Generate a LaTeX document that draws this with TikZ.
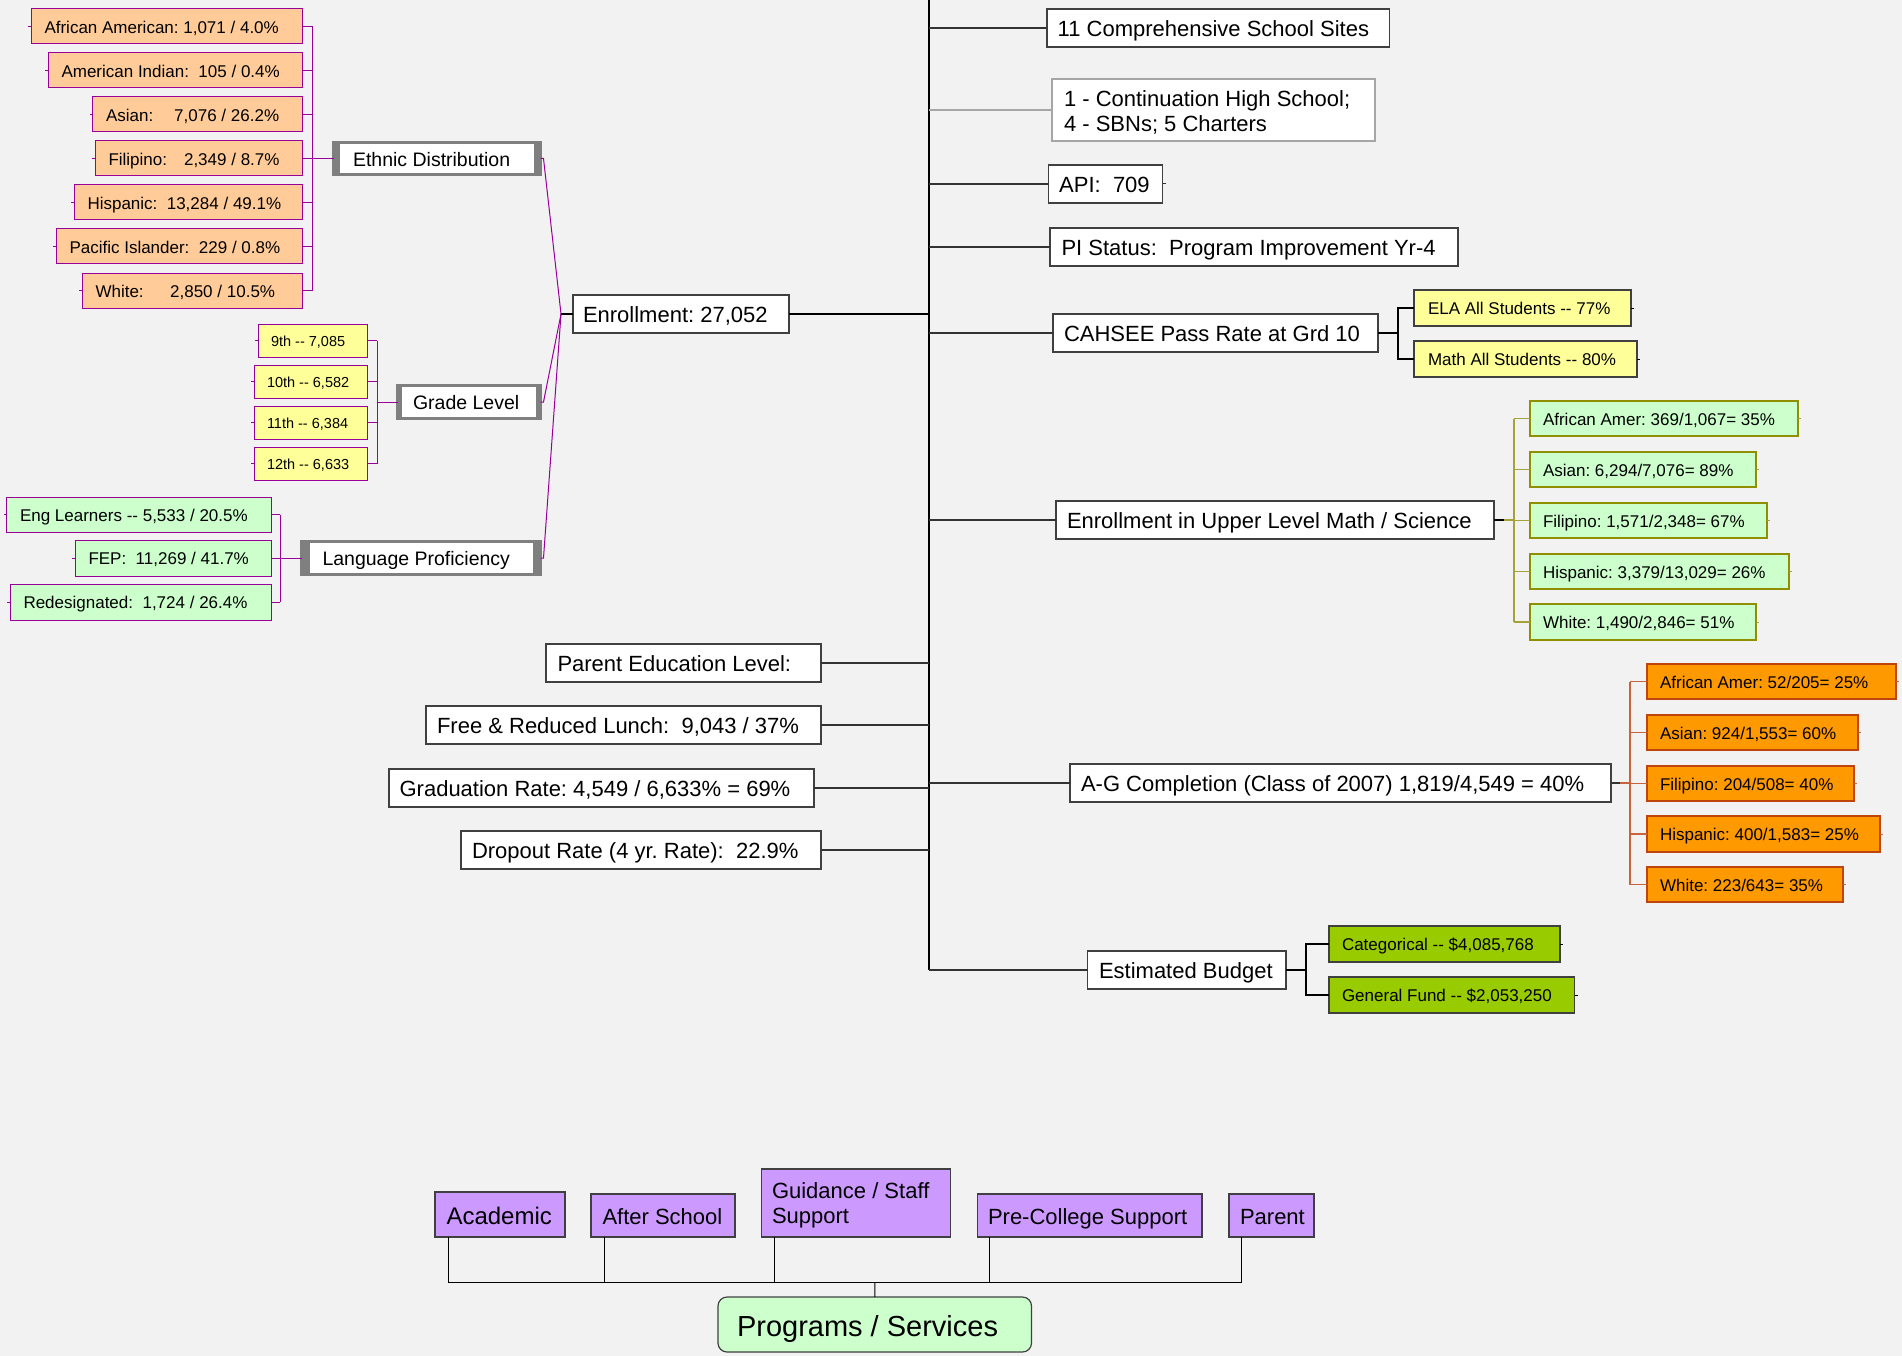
\documentclass[tikz,border=0pt]{standalone}
\usepackage{fontspec}
\setmainfont{Liberation Sans}
\definecolor{bgc}{HTML}{F2F2F2}
\definecolor{colPurp}{HTML}{990099}
\definecolor{colPeach}{HTML}{FFCC99}
\definecolor{colYel}{HTML}{FFFF99}
\definecolor{colLGreen}{HTML}{CCFFCC}
\definecolor{colOlive}{HTML}{8F8F00}
\definecolor{colOliveL}{HTML}{A3A33A}
\definecolor{colOrange}{HTML}{FF9900}
\definecolor{colRust}{HTML}{C0440E}
\definecolor{colRustL}{HTML}{C8643A}
\definecolor{colLime}{HTML}{99CC00}
\definecolor{colLilac}{HTML}{CC99FF}
\definecolor{colCat}{HTML}{7F7F7F}
\definecolor{colEdge}{HTML}{404040}
\definecolor{colLGray}{HTML}{A6A6A6}
\definecolor{colConn}{HTML}{333333}
% #1 pad, #2 style, #3 name, #4 x1, #5 y1, #6 x2, #7 y2, #8 text
\newcommand{\bx}[8][11]{%
  \pgfmathsetmacro{\bxw}{#6-#4}%
  \pgfmathsetmacro{\bxh}{#7-#5}%
  \pgfmathsetmacro{\bxt}{#6-#4-2*#1}%
  \node[#2, anchor=north west, inner xsep=#1pt, inner ysep=0pt, outer sep=0pt,
        minimum width=\bxw pt, minimum height=\bxh pt] (#3) at (#4,#5)
        {\makebox[\bxt pt][l]{\rule[-0.3em]{0pt}{1.4em}#8}};}
\newcommand{\dd}{-\kern0pt-}
\newcommand{\twolines}[4]{\raisebox{#1}[0pt][0pt]{\parbox[t]{#2}{\raggedright #3\\#4}}}
\begin{document}
\frenchspacing
\begin{tikzpicture}[x=1pt,y=-1pt,
  wbox/.style={draw=colEdge, fill=white, line width=1.2pt, font=\fontsize{22}{25}\selectfont},
  catbox/.style={draw=colCat, fill=white, line width=3pt, font=\fontsize{19.5}{23}\selectfont},
  ethbox/.style={draw=colPurp, fill=colPeach, line width=1pt, font=\fontsize{17}{20}\selectfont},
  gradebox/.style={draw=colPurp, fill=colYel, line width=1pt, font=\fontsize{14.5}{17}\selectfont},
  langbox/.style={draw=colPurp, fill=colLGreen, line width=1pt, font=\fontsize{17}{20}\selectfont},
  upbox/.style={draw=colOlive, fill=colLGreen, line width=1.2pt, font=\fontsize{17}{20}\selectfont},
  cahbox/.style={draw=colEdge, fill=colYel, line width=1.2pt, font=\fontsize{17}{20}\selectfont},
  agbox/.style={draw=colRust, fill=colOrange, line width=1.2pt, font=\fontsize{17}{20}\selectfont},
  budbox/.style={draw=colEdge, fill=colLime, line width=1.2pt, font=\fontsize{17}{20}\selectfont},
  pbox/.style={draw=colEdge, fill=colLilac, line width=1.2pt, font=\fontsize{22}{25}\selectfont},
  progbox/.style={draw=colEdge, fill=colLGreen, line width=1.2pt, rounded corners=9pt, font=\fontsize{29}{33}\selectfont},
  trunkline/.style={draw=black, line width=2pt},
  conn/.style={draw=colConn, line width=1.6pt},
  pline/.style={draw=colPurp, line width=1pt},
  oline/.style={draw=colOliveL, line width=1.2pt},
  rline/.style={draw=colRustL, line width=1.2pt},
  bline/.style={draw=black, line width=1.2pt},
  stub/.style={line width=1pt}
]
\useasboundingbox (0,0) rectangle (1902,1356);
\fill[bgc] (0,0) rectangle (1902,1356);

% ---------- trunk ----------
\coordinate (trunk) at (929,0);
\coordinate (trunkend) at (929,970);
\draw[trunkline] (trunk) -- (trunkend);

% ---------- left: ethnic ----------
\bx[13.5]{ethbox}{e1}{31}{9}{302}{44}{African American: 1,071 / 4.0\%}
\bx[13.5]{ethbox}{e2}{48}{53}{302}{88}{American Indian:~~105 / 0.4\%}
\bx[13.5]{ethbox}{e3}{92.5}{97}{302}{132}{Asian:\hspace{21pt}7,076 / 26.2\%}
\bx[13.5]{ethbox}{e4}{95}{141}{302}{176}{Filipino:\hspace{17pt}2,349 / 8.7\%}
\bx[13.5]{ethbox}{e5}{74}{185}{302}{220}{Hispanic:~~13,284 / 49.1\%}
\bx[13.5]{ethbox}{e6}{56}{229}{302}{264}{Pacific Islander:~~229 / 0.8\%}
\bx[13.5]{ethbox}{e7}{82}{273}{302}{308}{White:\hspace{26.5pt}2,850 / 10.5\%}

\bx[19.5]{catbox}{eth}{333.5}{142.5}{540.5}{174.5}{Ethnic Distribution}
\fill[colCat] (eth.north west) rectangle ([xshift=6.5pt]eth.south west);
\fill[colCat] ([xshift=-7pt]eth.north east) rectangle (eth.south east);

\coordinate (ebx) at (312,0);
\foreach \n in {e1,e2,e3,e4,e5,e6,e7}{
  \draw[pline] (\n.east) -- (\n.east -| ebx);
  \draw[pline] (\n.west) -- ++(-3,0);
}
\draw[pline] (e1.east -| ebx) -- (e7.east -| ebx);
\draw[pline, line width=1.5pt] (e4.east -| ebx) -- (eth.west);

% ---------- left: grade ----------
\bx[13]{gradebox}{g1}{258}{324}{367}{357}{9th \dd{} 7,085}
\bx[13]{gradebox}{g2}{254}{365}{367}{398}{10th \dd{} 6,582}
\bx[13]{gradebox}{g3}{254}{406}{367}{439}{11th \dd{} 6,384}
\bx[13]{gradebox}{g4}{254}{447}{367}{480}{12th \dd{} 6,633}

\bx[15.5]{catbox}{grd}{397.5}{385.5}{540.5}{418.5}{Grade Level}
\fill[colCat] (grd.north west) rectangle ([xshift=4.3pt]grd.south west);
\fill[colCat] ([xshift=-4.6pt]grd.north east) rectangle (grd.south east);

\coordinate (gbx) at (377,0);
\foreach \n in {g1,g2,g3,g4}{
  \draw[pline] (\n.east) -- (\n.east -| gbx);
  \draw[pline] (\n.west) -- ++(-3,0);
}
\draw[pline] (g1.east -| gbx) -- (g4.east -| gbx);
\draw[pline] (grd.west -| gbx) -- (grd.west);

% ---------- left: language ----------
\bx[13.5]{langbox}{l1}{6.5}{497}{271}{532}{Eng Learners \dd{} 5,533 / 20.5\%}
\bx[13.5]{langbox}{l2}{75}{540}{271}{576}{FEP:~~11,269 / 41.7\%}
\bx[13.5]{langbox}{l3}{10}{584}{271}{620}{Redesignated:~~1,724 / 26.4\%}

\bx[21]{catbox}{lng}{301.5}{541.5}{540.5}{574.5}{Language Proficiency}
\fill[colCat] (lng.north west) rectangle ([xshift=8pt]lng.south west);
\fill[colCat] ([xshift=-8pt]lng.north east) rectangle (lng.south east);

\coordinate (lbx) at (280,0);
\foreach \n in {l1,l2,l3}{
  \draw[pline] (\n.east) -- (\n.east -| lbx);
  \draw[pline] (\n.west) -- ++(-3,0);
}
\draw[pline] (l1.east -| lbx) -- (l3.east -| lbx);
\draw[pline] (l2.east -| lbx) -- (lng.west);

% ---------- enrollment ----------
\bx[10]{wbox}{enr}{573}{295}{789}{333}{Enrollment: 27,052}
\coordinate (enrj) at (561,314);
\draw[pline] (eth.east) -- ++(3,0) -- (enrj);
\draw[pline] (grd.east) -- ++(3,0) -- (enrj);
\draw[pline] (lng.east) -- ++(3,0) -- (enrj);
\draw[bline] (enrj) -- (enr.west);
\draw[bline] (enr.east) -- (enr.east -| trunk);

% ---------- left lower boxes ----------
\bx[11.5]{wbox}{par}{546}{644}{821}{682}{Parent Education Level:}
\bx[11]{wbox}{free}{426}{706}{821}{744}{Free \& Reduced Lunch:~~9,043 / 37\%}
\bx[10.6]{wbox}{grad}{389}{769}{814}{807}{Graduation Rate: 4,549 / 6,633\% = 69\%}
\bx[11]{wbox}{drop}{461}{831}{821}{869}{Dropout Rate (4 yr. Rate):~~22.9\%}
\foreach \n in {par,free,grad,drop}{
  \draw[conn] (\n.east) -- (\n.east -| trunk);
}

% ---------- right boxes ----------
\bx[10.7]{wbox}{c11}{1047}{9}{1389.5}{47}{11 Comprehensive School Sites}
\bx[12]{wbox, draw=colLGray}{cont}{1052}{79}{1375}{141}{\twolines{12pt}{299pt}{1 - Continuation High School;}{4 - SBNs; 5 Charters}}
\bx[10.7]{wbox}{api}{1048.5}{165}{1162.5}{203}{API:~~709}
\bx[11.5]{wbox}{pis}{1050}{228}{1458}{266}{PI Status:~~Program Improvement Yr-4}
\bx[11]{wbox}{cah}{1053}{314}{1378}{352}{CAHSEE Pass Rate at Grd 10}
\bx[11]{wbox}{upl}{1056}{501}{1494}{539}{Enrollment in Upper Level Math / Science}
\bx[11]{wbox}{ag}{1070}{764}{1611}{802}{A-G Completion (Class of 2007) 1,819/4,549 = 40\%}
\bx[11.5]{wbox}{bud}{1087.5}{951}{1286}{989}{Estimated Budget}

\foreach \n in {c11,api,pis,cah,upl,ag,bud}{
  \draw[conn] (\n.west) -- (\n.west -| trunk);
}
\draw[draw=colLGray, line width=1.2pt] (cont.west) -- (cont.west -| trunk);
\draw[conn, line width=1pt] (api.east) -- ++(3,0);

% CAHSEE children
\bx[14]{cahbox}{ela}{1414}{290}{1631}{326}{ELA All Students \dd{} 77\%}
\bx[14]{cahbox}{math}{1414}{341}{1637}{377}{Math All Students \dd{} 80\%}
\coordinate (cbx) at (1398,0);
\draw[bline] (cah.east) -- (cah.east -| cbx);
\draw[bline] (ela.west) -- (ela.west -| cbx) -- (math.west -| cbx) -- (math.west);
\draw[bline, stub] (ela.east) -- ++(3,0);
\draw[bline, stub] (math.east) -- ++(3,0);

% upper level math children
\bx[13]{upbox}{u1}{1530}{401}{1798}{436}{African Amer: 369/1,067= 35\%}
\bx[13]{upbox}{u2}{1530}{452}{1756}{487}{Asian: 6,294/7,076= 89\%}
\bx[13]{upbox}{u3}{1530}{503}{1767}{538}{Filipino: 1,571/2,348= 67\%}
\bx[13]{upbox}{u4}{1530}{554}{1789}{589}{Hispanic: 3,379/13,029= 26\%}
\bx[13]{upbox}{u5}{1530}{604}{1756}{640}{White: 1,490/2,846= 51\%}
\coordinate (ubx) at (1514,0);
\draw[bline] (upl.east) -- ++(10,0);
\draw[oline] ([xshift=10pt]upl.east) -- (upl.east -| ubx);
\foreach \n in {u1,u2,u3,u4,u5}{
  \draw[oline] (\n.west) -- (\n.west -| ubx);
  \draw[oline, stub] (\n.east) -- ++(3,0);
}
\draw[oline] (u1.west -| ubx) -- (u5.west -| ubx);

% A-G children
\bx[13]{agbox}{a1}{1647}{664}{1896}{699}{African Amer: 52/205= 25\%}
\bx[13]{agbox}{a2}{1647}{715}{1858}{750}{Asian: 924/1,553= 60\%}
\bx[13]{agbox}{a3}{1647}{766}{1854}{801}{Filipino: 204/508= 40\%}
\bx[13]{agbox}{a4}{1647}{816}{1880}{852}{Hispanic: 400/1,583= 25\%}
\bx[13]{agbox}{a5}{1647}{867}{1843}{902}{White: 223/643= 35\%}
\coordinate (abx) at (1630,0);
\draw[conn] (ag.east) -- ++(9,0);
\draw[rline] ([xshift=9pt]ag.east) -- (ag.east -| abx);
\foreach \n in {a1,a2,a3,a4,a5}{
  \draw[rline] (\n.west) -- (\n.west -| abx);
  \draw[rline, stub] (\n.east) -- ++(3,0);
}
\draw[rline] (a1.west -| abx) -- (a5.west -| abx);

% budget children
\bx[13]{budbox}{b1}{1329}{926}{1560}{962}{Categorical \dd{} \$4,085,768}
\bx[13]{budbox}{b2}{1329}{977}{1574.5}{1013}{General Fund \dd{} \$2,053,250}
\coordinate (bbx) at (1306,0);
\draw[bline] (bud.east) -- (bud.east -| bbx);
\draw[bline] (b1.west) -- (b1.west -| bbx) -- (b2.west -| bbx) -- (b2.west);
\draw[bline, stub] (b1.east) -- ++(3,0);
\draw[bline, stub] (b2.east) -- ++(3,0);

% ---------- bottom programs ----------
\bx[11.5]{pbox, font=\fontsize{24}{28}\selectfont}{acad}{435}{1192}{565}{1237}{Academic}
\bx[11.5]{pbox}{after}{591}{1194}{735}{1237}{After School}
\bx[10.5]{pbox}{guid}{761.5}{1169}{950.5}{1237}{\twolines{13pt}{168pt}{Guidance / Staff}{Support}}
\bx[10.5]{pbox}{prec}{977.5}{1194}{1202}{1237}{Pre-College Support}
\bx[11]{pbox}{parent}{1229}{1194}{1314}{1237}{Parent}
\bx[19]{progbox}{prog}{718}{1297}{1031.5}{1352}{Programs / Services}

\coordinate (bus) at (875,1282);
\draw[bline, line width=1pt] ([xshift=13pt]acad.south west) |- (bus);
\draw[bline, line width=1pt] ([xshift=13pt]after.south west) |- (bus);
\draw[bline, line width=1pt] ([xshift=12.5pt]guid.south west) |- (bus);
\draw[bline, line width=1pt] ([xshift=11.5pt]prec.south west) |- (bus);
\draw[bline, line width=1pt] ([xshift=12pt]parent.south west) |- (bus);
\draw[bline, line width=1pt] (bus) -- (prog.north);
\end{tikzpicture}
\end{document}
